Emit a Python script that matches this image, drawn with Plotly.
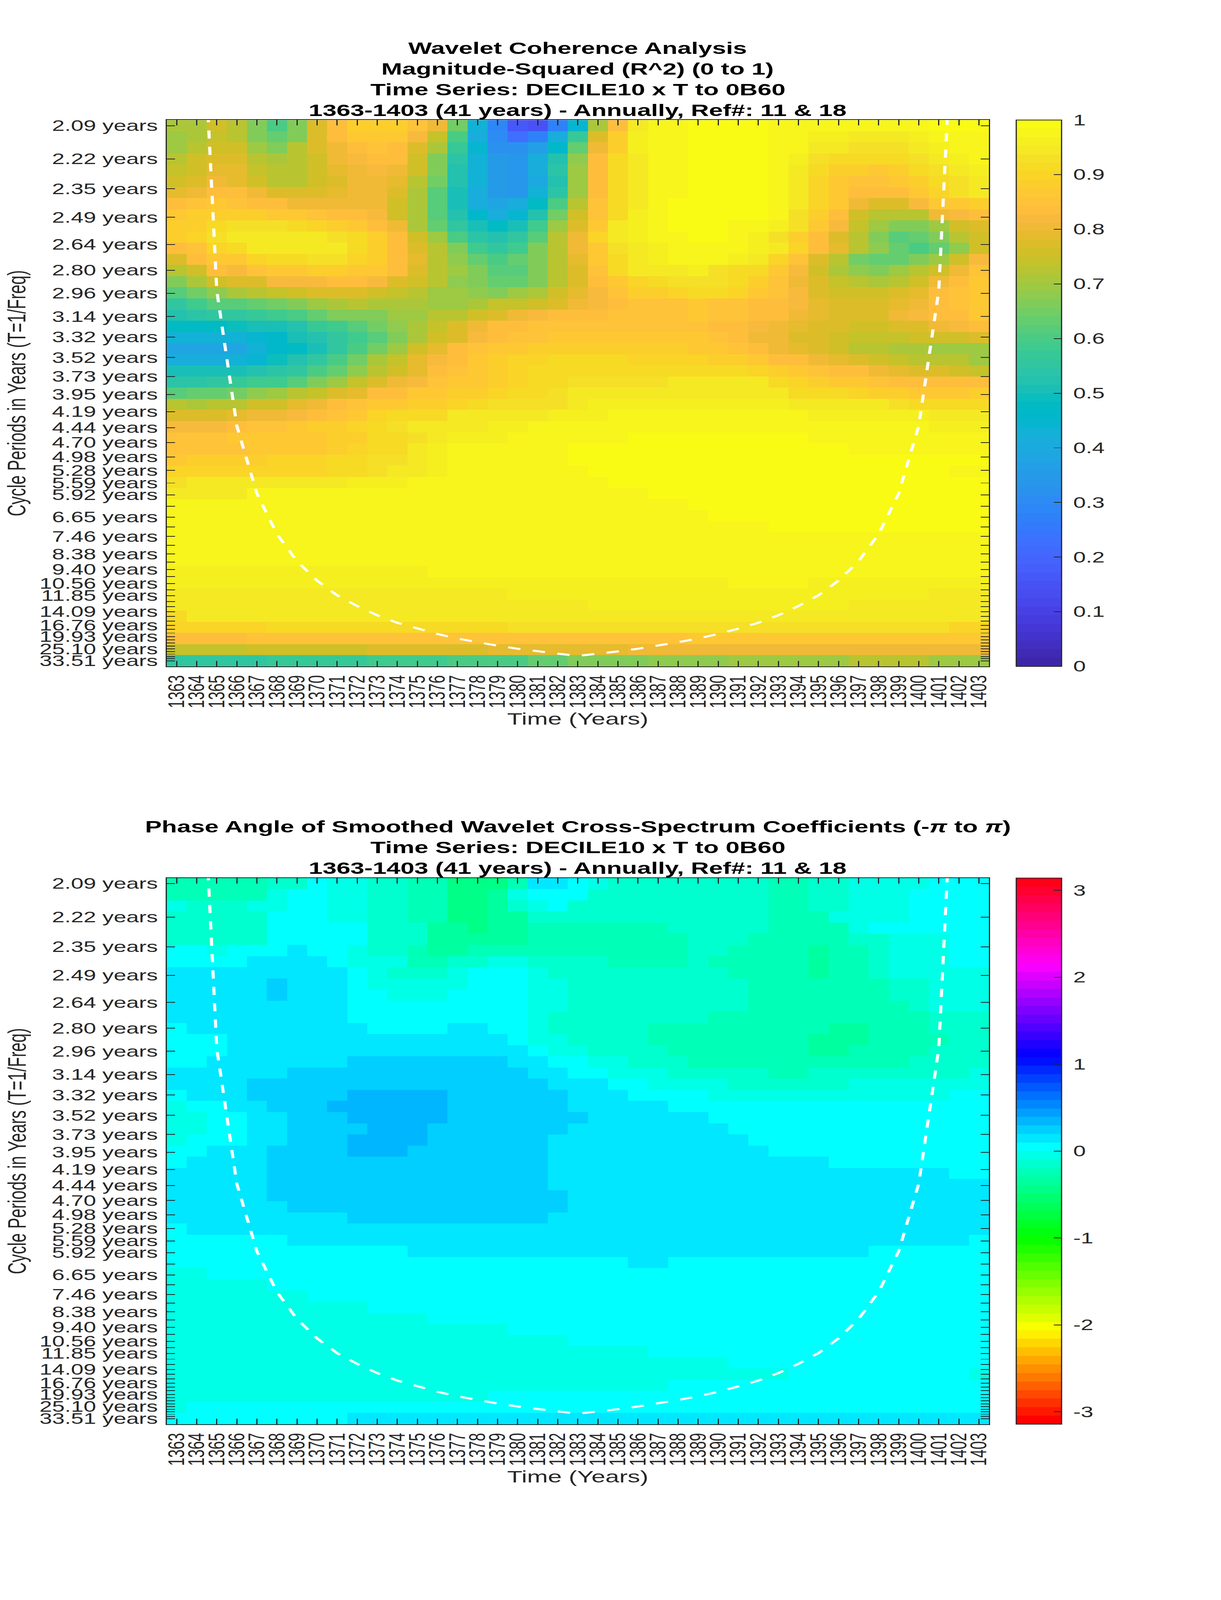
import colorsys
import plotly.graph_objects as go

# The figure holds two wavelet panels, period axis is linear in frequency (1/T)
YEARS = list(range(1363, 1404))

PERIODS = [2.09, 2.22, 2.35, 2.49, 2.64, 2.80, 2.96, 3.14, 3.32, 3.52, 3.73, 3.95,
           4.19, 4.44, 4.70, 4.98, 5.28, 5.59, 5.92, 6.27, 6.65, 7.04, 7.46, 7.90,
           8.38, 8.88, 9.40, 9.96, 10.56, 11.19, 11.85, 12.55, 13.30, 14.09, 14.93,
           15.82, 16.76, 17.76, 18.81, 19.93, 21.11, 22.37, 23.70, 25.10, 26.60,
           28.18, 29.86, 31.63, 33.51]
UNLABELLED = [6.27, 7.04, 7.90, 8.88, 9.96, 11.19, 12.55, 13.30, 14.93, 15.82, 17.76,
              18.81, 21.11, 22.37, 23.70, 26.60, 28.18, 29.86, 31.63]

# Cone of influence, period read at each year
COI_YEARS = list(range(1364, 1403))
COI_PERIODS = [1.47, 2.94, 4.41, 5.88, 7.35, 8.82, 10.3, 11.8, 13.2, 14.7, 16.2, 17.6,
               19.1, 20.6, 22.0, 23.5, 25.0, 26.5, 27.9, 29.4, 27.9, 26.5, 25.0, 23.5,
               22.0, 20.6, 19.1, 17.6, 16.2, 14.7, 13.2, 11.8, 10.3, 8.82, 7.35, 5.88,
               4.41, 2.94, 1.47]

# Magnitude-squared coherence, in hundredths, one row per period
COHERENCE_PCT = [
    [71, 71, 75, 72, 66, 60, 66, 77, 84, 88, 88, 88, 85, 80, 65, 43, 29, 16, 15, 27, 44, 71, 84, 94, 97, 98, 99, 99, 99, 99, 98, 97, 97, 97, 97, 97, 98, 98, 99, 99, 99],
    [69, 71, 74, 72, 67, 63, 67, 77, 83, 86, 87, 86, 82, 74, 60, 41, 30, 22, 27, 41, 57, 78, 89, 96, 97, 98, 99, 99, 99, 99, 98, 97, 96, 96, 95, 95, 95, 96, 97, 98, 98],
    [70, 72, 75, 75, 70, 67, 72, 77, 81, 83, 85, 83, 78, 71, 57, 44, 32, 32, 36, 46, 64, 81, 89, 96, 97, 98, 99, 99, 99, 99, 98, 97, 95, 94, 93, 93, 93, 95, 96, 98, 98],
    [72, 75, 77, 77, 73, 71, 72, 76, 80, 82, 84, 83, 76, 67, 54, 43, 35, 33, 41, 53, 68, 83, 91, 95, 97, 98, 99, 99, 99, 99, 98, 96, 93, 91, 91, 91, 92, 93, 95, 96, 98],
    [74, 76, 79, 79, 74, 72, 72, 76, 79, 81, 82, 81, 75, 66, 53, 43, 35, 34, 41, 54, 70, 83, 91, 95, 97, 98, 99, 99, 99, 99, 98, 95, 92, 89, 88, 87, 89, 91, 93, 95, 96],
    [75, 78, 81, 79, 76, 73, 73, 75, 78, 80, 80, 79, 72, 65, 52, 43, 35, 33, 40, 53, 69, 83, 91, 95, 97, 98, 99, 99, 99, 99, 97, 95, 90, 87, 85, 85, 86, 88, 91, 93, 94],
    [79, 81, 83, 83, 81, 77, 77, 78, 79, 80, 80, 78, 71, 62, 50, 42, 35, 33, 43, 54, 70, 83, 92, 95, 97, 98, 99, 99, 99, 99, 97, 94, 90, 87, 84, 83, 84, 87, 90, 93, 95],
    [84, 85, 86, 85, 84, 83, 81, 80, 80, 80, 80, 76, 71, 62, 50, 42, 38, 41, 47, 60, 73, 85, 92, 95, 97, 99, 99, 99, 99, 99, 97, 94, 90, 86, 81, 77, 78, 82, 86, 87, 88],
    [87, 88, 89, 89, 89, 87, 86, 85, 84, 84, 82, 76, 71, 61, 52, 46, 42, 45, 52, 65, 76, 85, 92, 96, 97, 99, 99, 99, 99, 99, 97, 93, 88, 84, 75, 72, 72, 73, 80, 82, 84],
    [88, 89, 92, 93, 93, 93, 92, 90, 88, 87, 84, 80, 71, 64, 55, 50, 48, 51, 58, 69, 78, 87, 94, 96, 98, 99, 99, 99, 98, 98, 96, 93, 87, 82, 74, 70, 66, 67, 69, 75, 78],
    [88, 90, 93, 94, 95, 95, 95, 95, 93, 91, 88, 84, 76, 69, 60, 54, 52, 55, 62, 72, 80, 90, 95, 96, 98, 98, 99, 99, 98, 96, 93, 89, 83, 78, 72, 66, 62, 63, 67, 72, 76],
    [83, 85, 90, 92, 95, 95, 95, 95, 94, 91, 88, 83, 77, 72, 66, 58, 56, 59, 66, 72, 80, 87, 93, 95, 96, 97, 98, 98, 97, 96, 94, 90, 84, 79, 73, 68, 63, 60, 63, 68, 76],
    [77, 83, 86, 87, 90, 92, 92, 93, 93, 90, 88, 84, 79, 72, 68, 64, 60, 64, 67, 72, 79, 86, 92, 95, 96, 97, 98, 97, 96, 94, 90, 85, 78, 72, 65, 63, 63, 67, 70, 76, 82],
    [72, 76, 83, 82, 85, 86, 87, 89, 89, 87, 87, 83, 78, 73, 69, 66, 62, 62, 66, 72, 77, 85, 91, 94, 94, 94, 96, 93, 92, 92, 86, 82, 76, 71, 68, 67, 69, 72, 75, 80, 85],
    [67, 71, 75, 77, 78, 82, 82, 82, 84, 83, 82, 77, 75, 72, 68, 66, 64, 64, 67, 73, 77, 83, 86, 90, 91, 93, 93, 93, 91, 88, 85, 81, 77, 74, 72, 71, 73, 76, 81, 84, 87],
    [61, 65, 68, 71, 72, 74, 76, 78, 78, 78, 75, 74, 72, 70, 69, 68, 67, 69, 71, 75, 79, 82, 85, 89, 89, 90, 92, 91, 90, 87, 85, 82, 78, 76, 75, 75, 77, 79, 84, 85, 87],
    [56, 59, 61, 62, 64, 65, 67, 69, 71, 72, 71, 71, 71, 70, 70, 71, 74, 74, 75, 78, 80, 82, 84, 85, 85, 85, 86, 85, 85, 84, 83, 82, 79, 78, 78, 78, 79, 81, 83, 85, 87],
    [53, 54, 55, 55, 57, 59, 60, 64, 66, 67, 67, 69, 70, 72, 73, 76, 78, 80, 82, 83, 84, 84, 85, 85, 85, 85, 87, 85, 85, 84, 83, 80, 79, 78, 78, 78, 80, 82, 83, 84, 86],
    [47, 47, 48, 49, 50, 50, 53, 57, 59, 61, 65, 68, 71, 74, 77, 80, 83, 84, 85, 85, 85, 85, 85, 85, 85, 85, 85, 84, 83, 82, 80, 79, 78, 77, 76, 76, 77, 78, 80, 82, 83],
    [43, 43, 43, 43, 44, 46, 50, 53, 56, 59, 62, 67, 71, 76, 78, 82, 84, 85, 85, 86, 86, 86, 86, 86, 86, 86, 86, 85, 83, 81, 80, 78, 77, 75, 74, 74, 74, 75, 75, 76, 78],
    [38, 38, 38, 39, 43, 46, 48, 51, 55, 60, 65, 70, 75, 79, 83, 85, 86, 87, 88, 88, 88, 88, 88, 88, 88, 88, 87, 86, 85, 83, 81, 79, 77, 75, 73, 72, 71, 71, 70, 70, 70],
    [42, 42, 42, 43, 45, 49, 52, 55, 60, 65, 71, 74, 79, 82, 84, 87, 89, 90, 90, 91, 91, 91, 91, 90, 90, 90, 90, 89, 88, 86, 84, 83, 81, 79, 78, 76, 74, 73, 72, 72, 70],
    [50, 50, 50, 51, 52, 54, 55, 60, 64, 68, 73, 76, 79, 83, 85, 87, 88, 90, 91, 91, 92, 92, 92, 92, 92, 92, 92, 92, 91, 90, 88, 86, 85, 84, 83, 81, 79, 78, 77, 76, 74],
    [54, 54, 55, 57, 59, 59, 62, 66, 70, 74, 77, 80, 82, 85, 86, 87, 89, 90, 92, 92, 93, 93, 93, 93, 93, 94, 94, 94, 94, 94, 91, 90, 89, 87, 86, 85, 83, 83, 84, 83, 83],
    [61, 63, 64, 65, 68, 69, 72, 74, 77, 79, 83, 84, 86, 87, 88, 89, 90, 91, 92, 93, 94, 94, 94, 95, 95, 95, 95, 95, 95, 95, 94, 92, 92, 91, 90, 89, 88, 87, 87, 87, 88],
    [72, 71, 72, 73, 75, 76, 79, 81, 83, 85, 87, 87, 88, 89, 90, 91, 93, 93, 93, 93, 94, 96, 96, 96, 96, 96, 96, 96, 96, 96, 96, 95, 94, 94, 94, 94, 93, 92, 92, 92, 92],
    [78, 78, 78, 79, 80, 81, 82, 84, 85, 87, 90, 91, 91, 92, 94, 94, 95, 95, 95, 96, 96, 96, 97, 97, 97, 97, 97, 97, 97, 97, 97, 97, 96, 96, 96, 96, 96, 96, 95, 95, 95],
    [82, 82, 82, 83, 85, 85, 87, 88, 89, 90, 92, 93, 94, 94, 95, 95, 96, 96, 97, 97, 97, 97, 97, 97, 97, 97, 97, 97, 97, 97, 97, 97, 97, 97, 97, 97, 97, 97, 96, 96, 96],
    [85, 85, 85, 86, 86, 86, 87, 87, 88, 89, 91, 91, 93, 94, 96, 96, 96, 97, 97, 97, 97, 97, 97, 99, 99, 99, 99, 99, 99, 99, 99, 99, 98, 98, 98, 98, 98, 98, 98, 98, 98],
    [85, 85, 85, 85, 86, 86, 87, 87, 88, 90, 91, 92, 94, 96, 97, 97, 97, 97, 97, 97, 99, 99, 99, 99, 99, 99, 99, 99, 99, 99, 99, 99, 99, 99, 98, 98, 98, 98, 98, 98, 98],
    [87, 88, 88, 88, 88, 90, 90, 90, 91, 91, 93, 93, 95, 96, 97, 97, 97, 97, 97, 97, 99, 99, 99, 99, 99, 99, 99, 99, 99, 99, 99, 99, 99, 99, 99, 99, 99, 99, 99, 99, 99],
    [90, 90, 90, 90, 90, 90, 90, 90, 91, 92, 93, 95, 95, 96, 97, 97, 97, 97, 97, 97, 98, 99, 99, 99, 99, 99, 99, 99, 99, 99, 99, 99, 99, 99, 99, 99, 99, 99, 99, 97, 97],
    [93] + [95] * 8 + [96] * 3 + [97] * 3 + [98] * 7 + [99] * 19,
    [95] * 4 + [97] * 8 + [98] * 12 + [99] * 17,
    [97] * 12 + [98] * 14 + [99] * 15,
    [97] * 10 + [98] * 17 + [99] * 14,
    [98] * 4 + [97] + [98] * 25 + [99] * 11,
    [98] + [97] * 8 + [98] * 32,
    [97] * 15 + [98] * 26,
    [97] * 22 + [98] * 19,
    [96] * 13 + [97] * 28,
    [96] * 28 + [97] * 4 + [96] * 9,
    [94] * 3 + [95] * 14 + [96] * 21 + [95] * 3,
    [94] * 5 + [95] * 16 + [96] * 13 + [95] * 7,
    [92] + [94] * 11 + [95] * 28 + [94],
    [90] * 5 + [91] * 12 + [93] * 22 + [90] * 2,
    [83] * 4 + [85] * 22 + [86] * 15,
    [74] * 4 + [75] * 6 + [77] * 6 + [79] * 7 + [81] * 18,
    [55] * 5 + [57] * 5 + [58] * 4 + [60] * 4 + [63] * 2 + [66] * 4 + [68] * 4 + [70] * 6 + [72] * 4 + [69] * 3,
]

# Phase angle, in hundredths of a radian. Colours come in flat bands so runs are enough
PHASE_PCT = [
    [-25] * 5 + [-15] * 2 + [5] + [-5] * 2 + [-15] * 2 + [-25] * 2 + [-45] * 3 + [-25] + [15] * 2 + [5] + [-5] + [-15] * 8 + [-25] * 2 + [-15] * 2 + [-5] * 4 + [5] * 3,
    [-25] * 5 + [-5] + [5] * 2 + [-5] * 2 + [-15] * 2 + [-25] * 2 + [-45] * 2 + [-35] + [-5] + [5] * 3 + [-15] * 9 + [-25] * 2 + [-15] * 2 + [-5] * 3 + [5] * 4,
    [-5] + [-15] * 3 + [-5] * 2 + [5] * 2 + [-5] * 2 + [-15] * 2 + [-25] * 2 + [-45] * 2 + [-35] + [-15] + [-5] + [5] + [-15] * 10 + [-25] * 2 + [-15] * 2 + [-5] * 3 + [5] * 4,
    [-15] * 5 + [5] * 3 + [-5] * 2 + [-15] * 2 + [-25] * 2 + [-45] * 2 + [-35] * 2 + [-15] * 12 + [-25] * 3 + [-5] * 4 + [5] * 4,
    [-15] * 5 + [5] * 5 + [-15] * 3 + [-35] * 2 + [-45] + [-35] * 2 + [-25] * 7 + [-15] * 5 + [-25] * 4 + [-5] + [5] * 6,
    [-15] * 5 + [5] * 5 + [-15] * 3 + [-35] * 5 + [-25] * 8 + [-15] * 3 + [-25] * 5 + [-15] * 2 + [-5] * 3 + [5] * 2,
    [5] * 2 + [-5] + [5] * 3 + [15] + [5] * 2 + [-5] + [-15] * 2 + [-25] + [-35] * 2 + [-25] * 11 + [-15] * 2 + [-25] * 4 + [-35] + [-25] * 2 + [-15] + [-5] * 3 + [5] * 2,
    [5] * 4 + [15] * 4 + [5] + [-5] * 3 + [-25] * 2 + [-15] * 2 + [-5] * 2 + [-15] * 4 + [-25] * 4 + [-15] + [-25] * 5 + [-35] + [-25] * 2 + [-15] + [-5] * 3 + [5] * 2,
    [15] * 9 + [5] + [-5] + [-15] * 3 + [-5] + [5] * 3 + [-5] + [-15] * 9 + [-25] * 4 + [-35] + [-25] * 2 + [-15] + [-5] * 5,
    [15] * 5 + [25] + [15] * 3 + [5] + [-5] * 5 + [5] * 3 + [-5] * 2 + [-15] * 9 + [-25] * 7 + [-15] * 2 + [-5] * 3,
    [15] * 5 + [25] + [15] * 3 + [5] * 2 + [-5] * 3 + [5] * 4 + [-5] * 2 + [-15] * 9 + [-25] * 7 + [-15] * 2 + [-5] * 3,
    [15] * 9 + [5] * 9 + [-5] * 2 + [-15] * 9 + [-25] * 8 + [-15] + [-5] * 3,
    [15] * 9 + [5] * 9 + [-5] + [-15] * 8 + [-25] * 11 + [-15] * 3,
    [5] + [15] * 9 + [5] * 4 + [15] * 2 + [5] * 2 + [-5] + [-15] * 5 + [-25] * 9 + [-35] * 2 + [-25] * 3 + [-15] * 3,
    [5] * 3 + [15] * 14 + [5] + [-5] * 2 + [-15] * 4 + [-25] * 8 + [-35] * 3 + [-25] * 4 + [-15] * 2,
    [5] * 3 + [15] * 15 + [5] + [-5] * 2 + [-15] * 4 + [-25] * 7 + [-35] * 2 + [-25] * 4 + [-15] * 3,
    [5] * 2 + [15] * 7 + [25] * 8 + [15] * 2 + [5] * 2 + [-5] * 2 + [-15] * 3 + [-25] * 11 + [-15] * 4,
    [15] * 6 + [25] * 12 + [15] * 2 + [5] * 2 + [-5] * 3 + [-15] * 5 + [-25] * 2 + [-15] * 8 + [-5],
    [15] * 4 + [25] * 15 + [15] * 3 + [5] * 2 + [-5] * 4 + [-15] * 6 + [-5] * 7,
    [5] + [15] * 3 + [25] * 5 + [35] * 5 + [25] * 6 + [15] * 3 + [5] * 4 + [-5] * 12 + [5] * 2,
    [-5] + [5] * 2 + [15] * 2 + [25] * 3 + [35] * 6 + [25] * 6 + [15] * 5 + [5] * 16,
    [-5] * 2 + [5] * 2 + [15] * 2 + [25] * 3 + [35] * 5 + [25] * 7 + [15] * 6 + [5] * 14,
    [-5] * 2 + [5] * 2 + [15] * 2 + [25] * 4 + [35] * 3 + [25] * 7 + [15] * 8 + [5] * 13,
    [-5] + [5] * 3 + [15] * 2 + [25] * 3 + [35] * 4 + [25] * 6 + [15] * 10 + [5] * 12,
    [5] * 2 + [15] * 3 + [25] * 4 + [35] * 3 + [25] * 7 + [15] * 11 + [5] * 11,
    [5] + [15] * 4 + [25] * 14 + [15] * 14 + [5] * 8,
    [15] * 5 + [25] * 14 + [15] * 20 + [5] * 2,
    [15] * 5 + [25] * 14 + [15] * 22,
    [15] * 5 + [25] * 15 + [15] * 21,
    [15] * 6 + [25] * 14 + [15] * 21,
    [15] * 9 + [25] * 10 + [15] * 22,
    [5] + [15] * 40,
    [5] * 6 + [15] * 34 + [5],
    [5] * 12 + [15] * 23 + [5] * 6,
    [5] * 23 + [15] * 2 + [5] * 16,
    [-5] * 2 + [5] * 39,
    [-5] * 5 + [5] * 36,
    [-5] * 7 + [5] * 34,
    [-5] * 10 + [5] * 31,
    [-5] * 13 + [5] * 28,
    [-5] * 17 + [5] * 24,
    [-5] * 20 + [5] * 21,
    [-5] * 24 + [5] * 17,
    [-5] * 28 + [5] * 13,
    [-5] * 31 + [5] * 9 + [-5],
    [-5] * 25 + [5] * 16,
    [-5] * 16 + [5] * 25,
    [-5] + [5] * 40,
    [5] * 9 + [15] * 32,
]

assert all(len(r) == 41 for r in COHERENCE_PCT) and len(COHERENCE_PCT) == 49
assert all(len(r) == 41 for r in PHASE_PCT) and len(PHASE_PCT) == 49

# Colormaps, 64 levels each
PARULA = [
    (.2422, .1504, .6603), (.2504, .1650, .7076), (.2578, .1818, .7511), (.2647, .1978, .7952),
    (.2706, .2147, .8364), (.2751, .2342, .8710), (.2783, .2559, .8991), (.2803, .2782, .9221),
    (.2813, .3006, .9414), (.2810, .3228, .9579), (.2795, .3447, .9717), (.2760, .3667, .9829),
    (.2699, .3892, .9906), (.2602, .4123, .9952), (.2440, .4358, .9988), (.2206, .4603, .9973),
    (.1963, .4847, .9892), (.1834, .5074, .9798), (.1786, .5289, .9682), (.1764, .5499, .9520),
    (.1687, .5703, .9359), (.1540, .5902, .9218), (.1460, .6091, .9079), (.1380, .6276, .8973),
    (.1248, .6459, .8883), (.1113, .6635, .8763), (.0952, .6798, .8598), (.0689, .6948, .8394),
    (.0297, .7082, .8163), (.0036, .7203, .7917), (.0067, .7312, .7660), (.0433, .7411, .7394),
    (.0964, .7500, .7120), (.1408, .7584, .6842), (.1717, .7670, .6554), (.1938, .7758, .6251),
    (.2161, .7843, .5923), (.2470, .7918, .5567), (.2906, .7973, .5188), (.3406, .8008, .4789),
    (.3909, .8029, .4354), (.4456, .8024, .3909), (.5044, .7993, .3480), (.5616, .7942, .3045),
    (.6174, .7876, .2612), (.6720, .7793, .2227), (.7242, .7698, .1910), (.7738, .7598, .1646),
    (.8203, .7498, .1535), (.8634, .7406, .1596), (.9035, .7330, .1774), (.9393, .7288, .2100),
    (.9728, .7298, .2394), (.9956, .7434, .2371), (.9970, .7659, .2199), (.9952, .7861, .1990),
    (.9892, .8086, .1706), (.9786, .8297, .1472), (.9676, .8547, .1417), (.9610, .8799, .1537),
    (.9597, .9135, .1423), (.9628, .9373, .1265), (.9691, .9606, .1064), (.9769, .9839, .0805),
]
HSV = [colorsys.hsv_to_rgb(i / 64, 1, 1) for i in range(64)]


def stepped(levels):
    # every level gets a flat stretch, so cells and colorbar show bands
    scale = []
    for i, (r, g, b) in enumerate(levels):
        c = f"rgb({round(r * 255)},{round(g * 255)},{round(b * 255)})"
        scale += [[i / len(levels), c], [(i + 1) / len(levels), c]]
    return scale


W, H = 3125, 6252
LEFT, RIGHT = 426.5, 2531
BAR_LEFT = 2601
BAR_W = 116
P1_TOP, P1_BOTTOM = 469, 2604
P2_TOP, P2_BOTTOM = 3431, 5565
INK = "#262626"
FONT = "Liberation Sans"
TICK_SIZE = 58
LABEL_SIZE = 64

freqs = [1 / t for t in PERIODS]
f_step = (freqs[0] - freqs[-1]) / 48
f_range = [freqs[-1] - f_step / 2, freqs[0] + f_step / 2]
ticktext = ["" if t in UNLABELLED else f"{t:.2f} years" for t in PERIODS]

fig = go.Figure()


def add_panel(n, z, top, bottom, scale, zmin, zmax, bar_ticks, titles):
    xname, yname = f"x{n}", f"y{n}"
    fig.add_trace(go.Heatmap(
        z=[[v / 100 for v in row] for row in z],
        x=YEARS, y0=freqs[0], dy=-f_step,
        zmin=zmin, zmax=zmax, colorscale=scale, zsmooth=False,
        xaxis=xname, yaxis=yname,
        colorbar=dict(
            x=BAR_LEFT / W, xanchor="left", xpad=0, thickness=BAR_W, thicknessmode="pixels",
            y=1 - top / H, yanchor="top", ypad=0, len=(bottom - top) / H, lenmode="fraction",
            outlinecolor=INK, outlinewidth=3,
            tickmode="array", tickvals=bar_ticks, ticktext=[f"\u00a0{v:g}" for v in bar_ticks],
            ticks="inside", ticklen=21, tickwidth=3, tickcolor=INK,
            tickfont=dict(family=FONT, size=TICK_SIZE, color=INK),
        ),
    ))
    fig.add_trace(go.Scatter(
        x=COI_YEARS, y=[1 / t for t in COI_PERIODS], mode="lines",
        line=dict(color="white", width=8, dash="32px,32px"),
        xaxis=xname, yaxis=yname, showlegend=False,
    ))
    suffix = "" if n == 1 else str(n)
    fig.update_layout({
        f"xaxis{suffix}": dict(
            domain=[LEFT / W, RIGHT / W], range=[1362.5, 1403.5], anchor=yname,
            tickmode="array", tickvals=YEARS, ticktext=[str(y) for y in YEARS], tickangle=-90,
            ticklabelstandoff=8,
            ticks="inside", ticklen=21, tickwidth=3, tickcolor=INK, mirror="allticks",
            showline=True, linecolor=INK, linewidth=3, showgrid=False, zeroline=False,
            tickfont=dict(family=FONT, size=TICK_SIZE, color=INK),
        ),
        f"yaxis{suffix}": dict(
            domain=[1 - bottom / H, 1 - top / H], range=f_range, anchor=xname,
            tickmode="array", tickvals=freqs, ticktext=ticktext, ticklabelstandoff=8,
            ticks="inside", ticklen=21, tickwidth=3, tickcolor=INK, mirror="allticks",
            showline=True, linecolor=INK, linewidth=3, showgrid=False, zeroline=False,
            tickfont=dict(family=FONT, size=TICK_SIZE, color=INK),
        ),
    })
    # one annotation per title line to hold the line spacing
    for i, line in enumerate(titles):
        fig.add_annotation(
            text=f"<b>{line}</b>", xref="paper", yref="paper", showarrow=False,
            x=(LEFT + RIGHT) / 2 / W, xanchor="center",
            y=1 - (top - 38 - 81 * (len(titles) - 1 - i)) / H, yanchor="middle",
            font=dict(family=FONT, size=LABEL_SIZE, color="black"),
        )
    fig.add_annotation(
        text="Time (Years)", xref="paper", yref="paper", showarrow=False,
        x=(LEFT + RIGHT) / 2 / W, xanchor="center", y=1 - (bottom + 205) / H, yanchor="middle",
        font=dict(family=FONT, size=LABEL_SIZE, color=INK),
    )
    fig.add_annotation(
        text="Cycle Periods in Years (T=1/Freq)", xref="paper", yref="paper", showarrow=False,
        textangle=-90, x=44 / W, xanchor="center", y=1 - (top + bottom) / 2 / H, yanchor="middle",
        font=dict(family=FONT, size=LABEL_SIZE, color=INK),
    )


add_panel(1, COHERENCE_PCT, P1_TOP, P1_BOTTOM, stepped(PARULA), 0, 1,
          [0, .1, .2, .3, .4, .5, .6, .7, .8, .9, 1],
          ["Wavelet Coherence Analysis", "Magnitude-Squared (R^2) (0 to 1)",
           "Time Series: DECILE10 x T to 0B60", "1363-1403 (41 years) - Annually, Ref#: 11 &amp; 18"])
add_panel(2, PHASE_PCT, P2_TOP, P2_BOTTOM, stepped(HSV), -3.14159, 3.14159,
          [-3, -2, -1, 0, 1, 2, 3],
          ["Phase Angle of Smoothed Wavelet Cross-Spectrum Coefficients (-<i>π</i> to <i>π</i>)",
           "Time Series: DECILE10 x T to 0B60", "1363-1403 (41 years) - Annually, Ref#: 11 &amp; 18"])

fig.update_layout(
    width=W, height=H, margin=dict(l=0, r=0, t=0, b=0, autoexpand=False),
    paper_bgcolor="white", plot_bgcolor="white", showlegend=False,
)

# the window can come up shorter than 6252 (4096 seen here), which would cut the lower
# panel off. Drop the body margin and squeeze the page to fit; no effect at full height.
fit_window = f"""
var s = Math.min(1, window.innerHeight / {H});
document.documentElement.style.overflow = 'hidden';
document.body.style.margin = '0';
document.body.style.transformOrigin = '0 0';
document.body.style.transform = 'scale(1,' + s + ')';
"""
fig.write_html("out.html", post_script=fit_window, config={"displayModeBar": False})
